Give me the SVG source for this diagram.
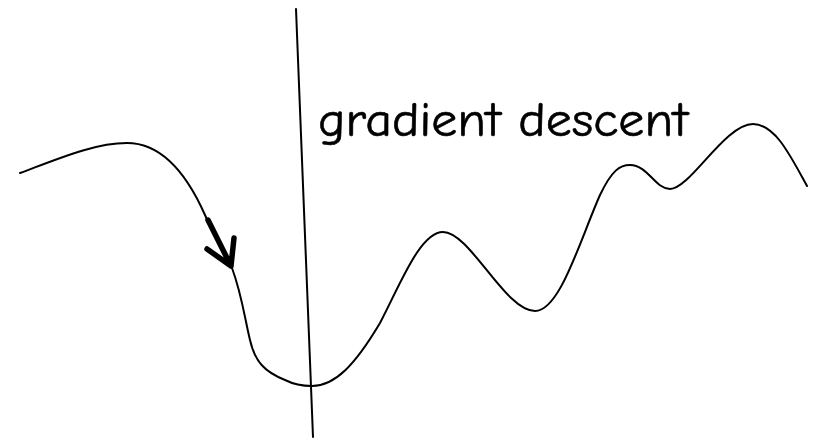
<svg xmlns="http://www.w3.org/2000/svg" width="814" height="443" viewBox="0 0 814 443">
<style>
.ln{fill:none;stroke:#000;stroke-width:2;stroke-linecap:round;stroke-linejoin:round}
.arr{fill:none;stroke:#000;stroke-width:5.5;stroke-linecap:round;stroke-linejoin:round}
.lbl{font-family:"Comic Sans MS","Comic Neue","Open Sans",sans-serif;font-size:49px;fill:#000;stroke:#000;stroke-width:0.6}
</style>
<rect width="814" height="443" fill="#fff"/>
<g id="axis"><path class="ln" d="M296,9 L313,437"/></g>
<g id="curve"><path class="ln" d="M20,173 C60,158 95,143 127,143 C160,143 185,170 205,215 C215,238 225,252 232,268 C242,295 245,320 250,340 C255,362 265,372 285,380 C295,385 305,386 312,386 C335,386 355,365 380,323 C400,285 420,232 443,232 C470,232 505,311 535,311 C560,311 580,240 600,195 C612,170 620,165 630,165 C648,165 655,189 670,189 C690,189 725,124 753,124 C775,124 790,155 807,186"/></g>
<g id="label"><text class="lbl" x="318" y="136" textLength="370" lengthAdjust="spacingAndGlyphs">gradient descent</text></g>
<g id="connectors"><path class="arr" d="M208,220 L231,266 M207,249 L231,266 L234,238"/></g>
</svg>
